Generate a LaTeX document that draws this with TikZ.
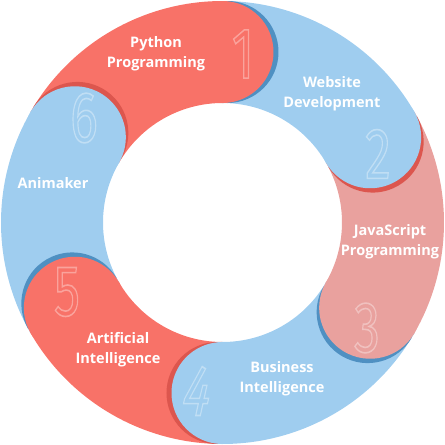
\documentclass[tikz,border=0pt]{standalone}
\usepackage{fontspec}
\setmainfont{Open Sans}
\newfontfamily\digitfont{Fira Sans}
\newcommand{\outlinedigit}[1]{\special{pdf:literal direct 1 Tr 1.6 w 1 1 1 RG}#1\special{pdf:literal direct 0 Tr}}
\begin{document}
\begin{tikzpicture}[x=1pt,y=1pt,
  lbl/.style={text=white, font=\bfseries\fontsize{14.5}{20}\selectfont, align=center, inner sep=0pt},
  dig/.style={text=white, opacity=0.35, font=\digitfont\fontsize{72}{72}\selectfont, inner sep=0pt}]
\definecolor{segred}{HTML}{F87268}
\definecolor{segblue}{HTML}{9FCDEF}
\definecolor{segpink}{HTML}{E9A19E}
\definecolor{shblue}{HTML}{4F90C2}
\definecolor{shred}{HTML}{DC564E}
\useasboundingbox (-222.5,-222.5) rectangle (222.5,222.5);
% ring sectors
\foreach \a/\b/\c in {90/150/segred, 30/90/segblue, -30/30/segpink, -90/-30/segblue, -150/-90/segred, 150/210/segblue}{
  \fill[\c] (\a-0.5:221.5) arc[start angle=\a-0.5, end angle=\b, radius=221.5]
    -- (\b:119.5) arc[start angle=\b, end angle=\a-0.5, radius=119.5] -- cycle;
}
% rounded caps with shadows
\foreach \t/\c/\s in {90/segred/shblue, 30/segblue/shred, -30/segpink/shblue, -90/segblue/shred, -150/segred/shblue, 150/segblue/shred}{
  \fill[\s, shift={(\t-90:5)}] (\t:170.5) ++(\t:51) arc[start angle=\t, end angle=\t-180, radius=51] -- cycle;
  \fill[\c] (\t:170.5) ++(\t+5:51) arc[start angle=\t+5, end angle=\t-185, radius=51] -- cycle;
}
% digits
\node[dig] (d1) at (20.5,168.5) {\scalebox{0.72}[1]{\outlinedigit{1}}};
\node[dig] (d2) at (155.5,68.5) {\scalebox{0.72}[1]{\outlinedigit{2}}};
\node[dig] (d3) at (144.5,-105.5) {\scalebox{0.72}[1]{\outlinedigit{3}}};
\node[dig, xslant=0.22, transform shape] (d4) at (-24.5,-168.5) {\scalebox{0.72}[1]{\outlinedigit{4}}};
\node[dig] (d5) at (-155.5,-69.5) {\scalebox{0.72}[1]{\outlinedigit{5}}};
\node[dig] (d6) at (-138.5,104.5) {\scalebox{0.72}[1]{\outlinedigit{6}}};
% labels
\node[lbl] (python) at (-66.5,168.5) {Python\\Programming};
\node[lbl] (web) at (109.5,128.5) {Website\\Development};
\node[lbl] (js) at (167.5,-19.5) {JavaScript\\Programming};
\node[lbl] (bi) at (59.5,-156.5) {Business\\Intelligence};
\node[lbl] (ai) at (-104.5,-127.5) {Artificial\\Intelligence};
\node[lbl] (ani) at (-169.5,39.5) {Animaker};
\end{tikzpicture}
\end{document}
